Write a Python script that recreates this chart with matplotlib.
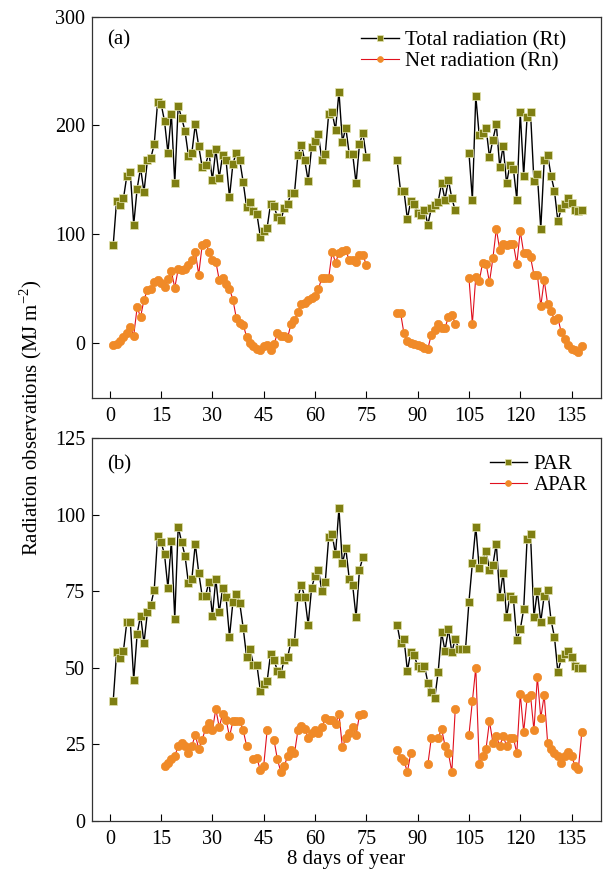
import numpy as np
import matplotlib
matplotlib.use('Agg')
import matplotlib.pyplot as plt

plt.rcParams['font.family'] = ['Liberation Serif', 'DejaVu Serif']
plt.rcParams['mathtext.fontset'] = 'custom'
plt.rcParams['mathtext.rm'] = 'Liberation Serif'

nan = np.nan

## Data (8-day periods; two blocks with a gap in between)
x_left = np.arange(1, 76)
x_right = np.arange(84, 139)

# (a) total radiation Rt
rt_left = [90, 131, 127, 133, 154, 157, 109, 142, 161, 139, 168, 170, 183, 222, 220,
           204, 175, 211, 147, 218, 207, 195, 172, 175, 201, 181, 162, 164, 175, 150,
           178, 152, 173, 168, 134, 165, 175, 168, 148, 125, 130, 121, 119, 98, 103,
           106, 128, 126, 116, 113, 124, 128, 138, 138, 173, 182, 168, 149, 180, 186,
           192, 168, 174, 211, 212, 196, 231, 185, 198, 174, 174, 147, 183, 193, 171]
rt_right = [168, 140, 140, 114, 131, 128, 120, 118, 122, 109, 124, 127, 130, 147, 132,
            150, 133, 122, nan, nan, nan, 175, 132, 227, 191, 193, 198, 171, 187, 201,
            162, 181, 147, 164, 160, 132, 212, 154, 208, 212, 149, 155, 105, 168, 173,
            154, 140, 112, 124, 128, 133, 129, 122, 121, 122]

# (a) net radiation Rn
rn_left = [-2, -1, 2, 6, 9, 15, 7, 33, 24, 40, 49, 50, 56, 58, 55,
           52, 59, 66, 51, 68, 67, 68, 72, 76, 84, 63, 90, 92, 84, 76,
           75, 58, 60, 54, 50, 40, 23, 19, 17, 6, 0, -3, -5, -6, -3,
           -2, -6, -1, 9, 7, 7, 5, 18, 21, 29, 36, 37, 40, 42, 43,
           50, 60, 60, 60, 84, 74, 83, 85, 86, 76, 76, 75, 81, 81, 72]
rn_right = [28, 28, 9, 2, 0, -1, -2, -3, -4, -5, 8, 12, 18, 14, 14,
            24, 26, 18, nan, nan, nan, 60, 18, 61, 57, 74, 73, 56, 78, 105,
            86, 91, 90, 91, 91, 73, 103, 83, 83, 79, 63, 63, 34, 58, 36,
            30, 21, 23, 10, 4, -2, -5, -6, -8, -3]

# (b) PAR
par_left = [39, 55, 53, 55.5, 65, 65, 46, 61, 67, 58, 68, 70.5, 75.5, 93, 91,
            87, 76, 91.5, 66, 96, 91, 86.5, 77.5, 79, 90.5, 81, 73.5, 73.5, 78, 67,
            79, 68, 76, 73, 60, 71.5, 74, 71, 63, 53.5, 56, 51, 51, 42.5, 44.5,
            45.5, 54.5, 52.5, 49, 48, 52.5, 53.5, 58.5, 58.5, 73, 77, 73, 64, 76, 80,
            82, 75, 78, 92.5, 93.5, 87, 102, 84, 89, 79, 77, 66.5, 82, 86, nan]
par_right = [64, 58, 59.5, 49, 55, 54, 50.5, 50, 50.5, 45, 42, 40, 48.5, 61.5, 55.5,
             62.5, 55, 59.5, 56, 56, 56, 71.5, 84, 96, 82.5, 85, 88, 82, 83.5, 90.5,
             73, 81, 66.5, 73.5, 72.5, 59, 62.5, 69, 92, 93.5, 66.5, 75, 65, 73.5, 75.5,
             65.5, 60, 48.5, 53, 54.5, 55.5, 53.5, 50.5, 50, 50]

# (b) APAR
apar_left = [nan, nan, nan, nan, nan, nan, nan, nan, nan, nan, nan, nan, nan, nan, nan,
             18, 19, 20, 21, 24.5, 25.5, 24.5, 22, 24.5, 28, 23.5, 26.5, 30, 32, 29.5,
             36.5, 30.5, 35, 33, 27.5, 32.5, 32.5, 32.5, 29.5, 24.5, nan, 20, 20.5, 16.5, 18,
             29.5, nan, 26.5, 20, 16, 18, 21, 23, 22, 29.5, 31, 30, 27, 28.5, 29.5,
             28.5, 30.5, 33.5, 33, 33, 31.5, 35, 24, 27, 28.5, 30.5, 28, 34.5, 35, nan]
apar_right = [23, 20.5, 19.5, 16, 22, nan, nan, nan, nan, 18.5, 27, nan, 27, 30, 24.5,
              22, 16, 36.5, nan, nan, nan, 28, 39, 50, 18.5, 21, 23.5, 32.5, 25.5, 27.5,
              24.5, 27.5, 24.5, 27, 27, 22, 41.5, 29, 40, 41, 29.5, 47, 33.5, 41, 25.5,
              23.5, 22, 21, 19, 21, 22.5, 21, 18, 17, 29]

## Styling
olive = '#7f7f12'
orange = '#f08a28'
sq = dict(marker='s', ms=5.4, mfc=olive, mec='#e4e4b0', mew=0.5)
ci = dict(marker='o', ms=6.0, mfc=orange, mec=orange, mew=0.5)

fig = plt.figure(figsize=(6.04, 8.74), dpi=100)
ax1 = fig.add_axes([0.1523, 0.545, 0.8427, 0.436])
ax2 = fig.add_axes([0.1523, 0.061, 0.8427, 0.4379])

x_all = np.concatenate([x_left, [nan], x_right])

def join(a, b):
    return np.concatenate([np.array(a, float), [nan], np.array(b, float)])

ax1.plot(x_all, join(rt_left, rt_right), color='black', lw=1.0, label='Total radiation (Rt)', **sq)
ax1.plot(x_all, join(rn_left, rn_right), color='#e0101e', lw=0.8, label='Net radiation (Rn)', **ci)
ax2.plot(x_all, join(par_left, par_right), color='black', lw=1.0, label='PAR', **sq)
ax2.plot(x_all, join(apar_left, apar_right), color='#e0101e', lw=0.8, label='APAR', **ci)

for ax in (ax1, ax2):
    ax.set_xlim(-5.2, 143.6)
    ax.set_xticks(range(0, 136, 15))
    ax.tick_params(direction='in', length=5, width=0.8, labelsize=14.5, top=False, right=False)
    ax.tick_params(axis='x', pad=7)
    ax.tick_params(axis='y', pad=5)
    for s in ax.spines.values():
        s.set_linewidth(0.9)
        s.set_color('#333333')

ax1.set_ylim(-50, 300)
ax1.set_yticks([0, 100, 200, 300])
ax2.set_ylim(0, 125)
ax2.set_yticks(range(0, 126, 25))

ax1.text(0.03, 0.965, '(a)', transform=ax1.transAxes, va='top', ha='left', fontsize=15)
ax2.text(0.03, 0.955, '(b)', transform=ax2.transAxes, va='top', ha='left', fontsize=15)

leg_kw = dict(frameon=False, fontsize=15, handlelength=1.8, handletextpad=0.3,
              labelspacing=0.05, markerscale=0.7, loc='upper right')
ax1.legend(bbox_to_anchor=(0.968, 1.012), **leg_kw)
ax2.legend(bbox_to_anchor=(1.01, 1.005), **leg_kw)

ax2.set_xlabel('8 days of year', fontsize=15, labelpad=0)
fig.text(0.05, 0.522, 'Radiation observations (MJ m$^{-2}$)', rotation=90,
         ha='center', va='center', fontsize=15)

fig.savefig('out.png', dpi=100)
